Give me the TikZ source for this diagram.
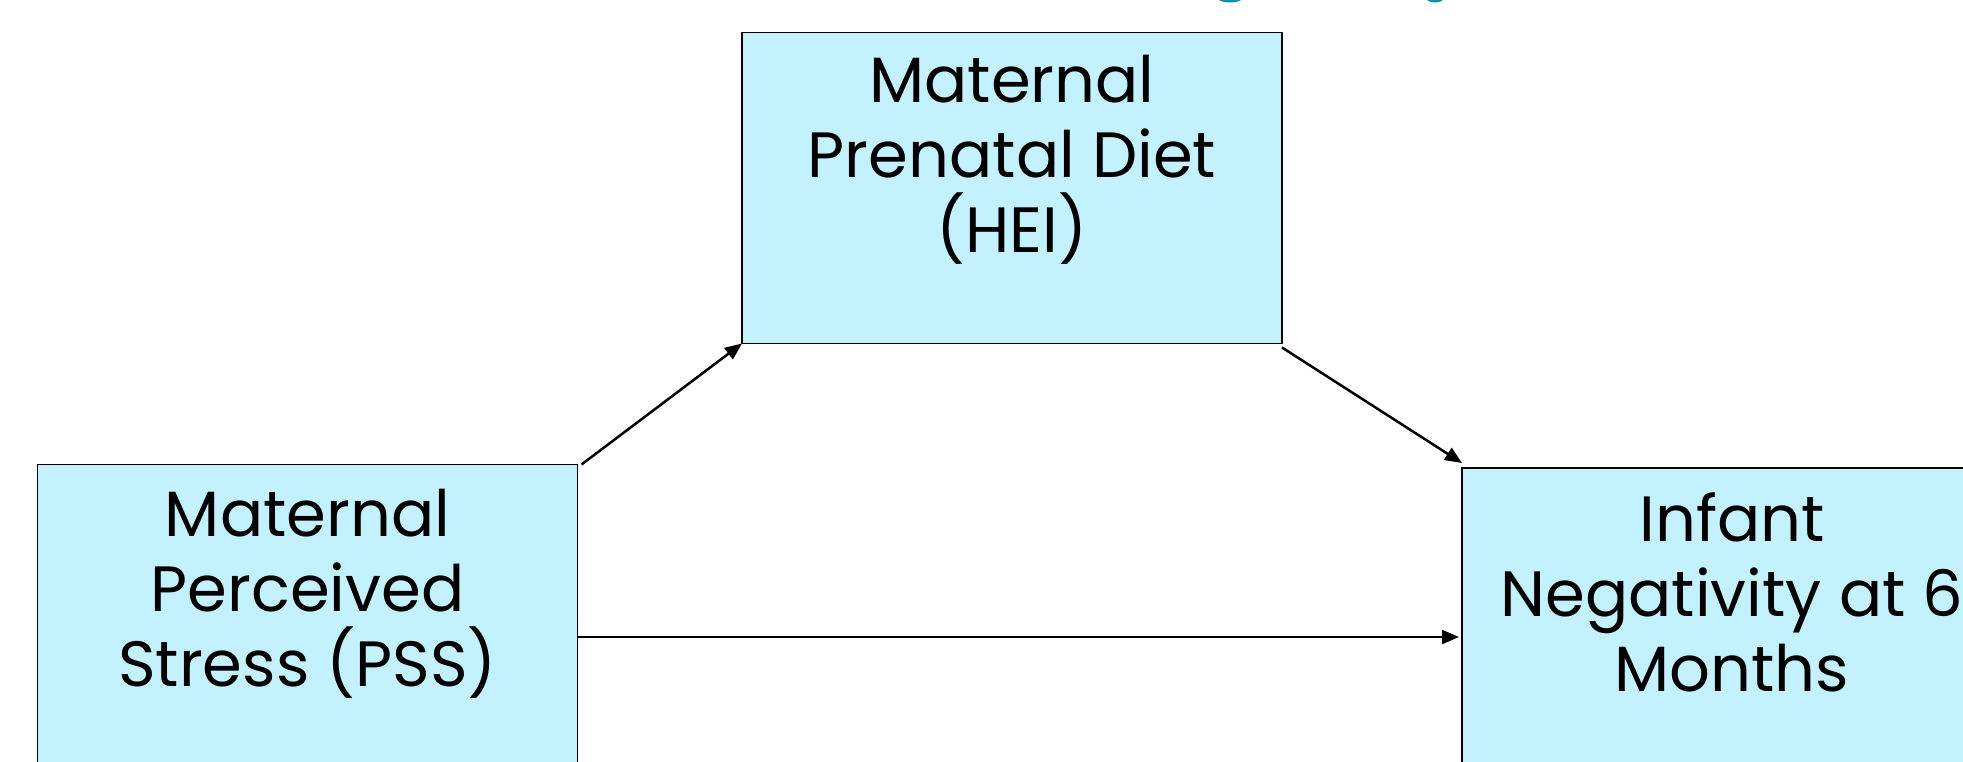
\documentclass[tikz,border=0pt]{standalone}
\usepackage{fontspec}
\setmainfont{Poppins}
\usetikzlibrary{arrows.meta}
\definecolor{boxfill}{HTML}{C4F1FE}
\definecolor{titleteal}{HTML}{1290B2}
\tikzset{
  boxnode/.style={draw=black, line width=1.1pt, fill=boxfill, rectangle, minimum width=540pt, minimum height=311pt, inner sep=0pt, outer sep=0pt},
  boxtext/.style={anchor=north, align=center, inner sep=0pt, font=\fontsize{64pt}{75pt}\selectfont},
  conn/.style={line width=2.5pt, -{Triangle[length=17pt,width=14pt]}}
}
\begin{document}
\begin{tikzpicture}[x=1pt,y=-1pt]
\useasboundingbox (0,0) rectangle (1963,761);
\clip (0,0) rectangle (1963,761);
% cut-off title fragments
\fill[titleteal] (1230,-1.5) ellipse (12 and 4);
\fill[titleteal] (1435,-1.5) ellipse (8.5 and 4);
% boxes
\node[boxnode, anchor=north west] (stress) at (37.5,464.5) {};
\node[boxnode, anchor=north west] (diet) at (742,32.5) {};
\node[boxnode, anchor=north west] (infant) at (1462,468) {};
% texts
\node[boxtext] (stresstxt) at ([yshift=-24pt]stress.north) {Maternal\\Perceived\\Stress (PSS)};
\node[boxtext] (diettxt) at ([yshift=-22pt]diet.north) {Maternal\\Prenatal Diet\\(HEI)};
\node[boxtext] (infanttxt) at ([yshift=-24pt]infant.north) {Infant\\Negativity at 6\\Months};
% connectors
\draw[conn] ([xshift=4pt]stress.north east) -- (diet.south west);
\draw[conn] ([yshift=-4pt]diet.south east) -- ([yshift=5pt]infant.north west);
\coordinate (midleft) at (stress.east |- 0,637);
\coordinate (midright) at ([xshift=-3pt]infant.west |- 0,637);
\draw[conn] (midleft) -- (midright);
\end{tikzpicture}
\end{document}
